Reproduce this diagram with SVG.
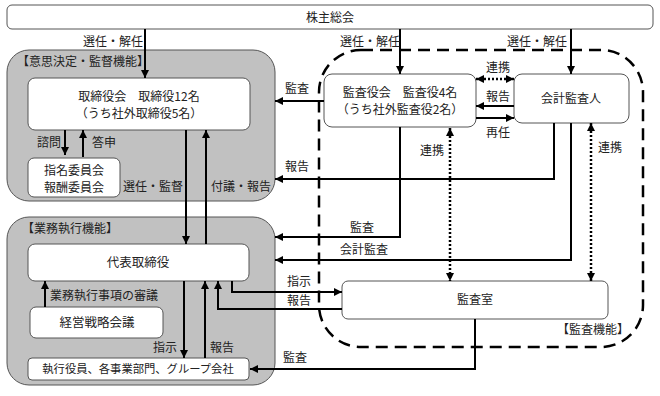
<svg xmlns="http://www.w3.org/2000/svg" width="660" height="396" viewBox="0 0 660 396">
<defs>
<marker id="ah" viewBox="0 0 10 10" refX="10" refY="5" markerWidth="8" markerHeight="8" markerUnits="userSpaceOnUse" orient="auto-start-reverse">
<path d="M0,0 L10,5 L0,10 z" fill="#000"/>
</marker>
<style>
text{font-family:"Noto Sans CJK JP","Noto Sans",sans-serif;font-size:12px;fill:#222}
.c{text-anchor:middle}
.panel{fill:#c1c1c1;stroke:#555;stroke-width:1}
.box{fill:#fff;stroke:#555;stroke-width:1}
.ln{fill:none;stroke:#000;stroke-width:2}
.dot{fill:none;stroke:#000;stroke-width:2.5;stroke-dasharray:2 2}
.dash{fill:none;stroke:#000;stroke-width:2.5;stroke-dasharray:12 7}
</style>
</defs>
<rect width="660" height="396" fill="#fff"/>

<g id="panel-supervision">
<rect class="panel" x="7" y="50" width="268" height="151" rx="22"/>
<text x="17" y="66">【意思決定・監督機能】</text>
</g>
<g id="panel-execution">
<rect class="panel" x="7" y="217" width="268" height="168" rx="22"/>
<text x="22" y="233">【業務執行機能】</text>
</g>
<g id="region-audit">
<rect class="dash" x="319" y="50" width="324" height="297" rx="42"/>
<text x="557" y="334">【監査機能】</text>
</g>

<g id="shareholders">
<rect class="box" x="7" y="5" width="646" height="24" rx="5"/>
<text class="c" x="330" y="22">株主総会</text>
</g>
<g id="board">
<rect class="box" x="28" y="78" width="222" height="52" rx="7"/>
<text class="c" x="139" y="101">取締役会　取締役12名</text>
<text class="c" x="139" y="118">（うち社外取締役5名）</text>
</g>
<g id="committees">
<rect class="box" x="28" y="158" width="92" height="39" rx="6"/>
<text class="c" x="74" y="175">指名委員会</text>
<text class="c" x="74" y="192">報酬委員会</text>
</g>
<g id="representative">
<rect class="box" x="28" y="244" width="221" height="37" rx="7"/>
<text class="c" x="138" y="267" style="font-size:12.5px">代表取締役</text>
</g>
<g id="strategy">
<rect class="box" x="30" y="307" width="133" height="31" rx="6"/>
<text class="c" x="97" y="327" style="font-size:12.5px">経営戦略会議</text>
</g>
<g id="executives">
<rect class="box" x="28" y="358" width="221" height="22" rx="4"/>
<text class="c" x="138" y="373" style="font-size:11.3px">執行役員、各事業部門、グループ会社</text>
</g>
<g id="auditors-board">
<rect class="box" x="324" y="74" width="152" height="53" rx="8"/>
<text class="c" x="400" y="97">監査役会　監査役4名</text>
<text class="c" x="400" y="114">（うち社外監査役2名）</text>
</g>
<g id="accounting-auditor">
<rect class="box" x="514" y="74" width="115" height="49" rx="8"/>
<text class="c" x="571" y="103">会計監査人</text>
</g>
<g id="audit-office">
<rect class="box" x="342" y="281" width="266" height="38" rx="6"/>
<text class="c" x="475" y="304">監査室</text>
</g>

<g id="connectors">
<path class="ln" d="M145,29 V78" marker-end="url(#ah)"/>
<path class="ln" d="M400,29 V74" marker-end="url(#ah)"/>
<path class="ln" d="M571,29 V74" marker-end="url(#ah)"/>
<path class="ln" d="M65,130 V155" marker-end="url(#ah)"/>
<path class="ln" d="M83,157 V130" marker-end="url(#ah)"/>
<path class="ln" d="M186,130 V244" marker-end="url(#ah)"/>
<path class="ln" d="M206,244 V130" marker-end="url(#ah)"/>
<path class="ln" d="M45,307 V281" marker-end="url(#ah)"/>
<path class="ln" d="M184,281 V358" marker-end="url(#ah)"/>
<path class="ln" d="M205,358 V281" marker-end="url(#ah)"/>
<path class="ln" d="M232,281 V292 H342" marker-end="url(#ah)"/>
<path class="ln" d="M342,309 H218 V281" marker-end="url(#ah)"/>
<path class="ln" d="M475,319 V369 H250" marker-end="url(#ah)"/>
<path class="ln" d="M324,101 H275" marker-end="url(#ah)"/>
<path class="ln" d="M400,127 V237 H275" marker-end="url(#ah)"/>
<path class="ln" d="M554,123 V179 H275" marker-end="url(#ah)"/>
<path class="ln" d="M571,123 V260 H275" marker-end="url(#ah)"/>
<path class="ln" d="M514,106 H476" marker-end="url(#ah)"/>
<path class="ln" d="M476,118 H514" marker-end="url(#ah)"/>
<path class="dot" d="M476,79 H514" marker-start="url(#ah)" marker-end="url(#ah)"/>
<path class="dot" d="M450,128 V281" marker-start="url(#ah)" marker-end="url(#ah)"/>
<path class="dot" d="M591,123 V281" marker-start="url(#ah)" marker-end="url(#ah)"/>
</g>

<g id="labels">
<text x="83" y="46">選任・解任</text>
<text x="340" y="46">選任・解任</text>
<text x="507" y="46">選任・解任</text>
<text x="37" y="147">諮問</text>
<text x="92" y="147">答申</text>
<text x="123" y="191">選任・監督</text>
<text x="211" y="191">付議・報告</text>
<text x="285" y="93">監査</text>
<text x="285" y="171">報告</text>
<text x="486" y="72">連携</text>
<text x="486" y="101">報告</text>
<text x="486" y="137">再任</text>
<text x="420" y="155">連携</text>
<text x="598" y="152">連携</text>
<text x="350" y="232">監査</text>
<text x="340" y="254">会計監査</text>
<text x="50" y="300">業務執行事項の審議</text>
<text x="287" y="286">指示</text>
<text x="287" y="305">報告</text>
<text x="153" y="352">指示</text>
<text x="210" y="352">報告</text>
<text x="283" y="362">監査</text>
</g>
</svg>
